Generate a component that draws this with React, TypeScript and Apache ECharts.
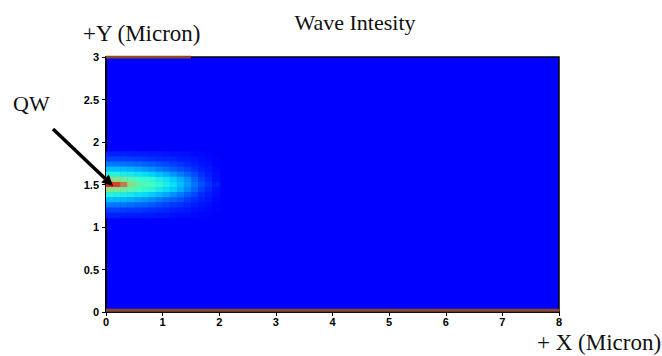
import React, { useEffect, useRef } from "react";
import * as echarts from "echarts";

// Cell left edges along X (micron) and row centres along Y (micron)
const XS = [0, 0.125, 0.25, 0.375, 0.5, 0.625, 0.75, 0.875, 1.0, 1.125, 1.25, 1.375, 1.5, 1.625, 1.75, 1.875];
const YS = [1.86, 1.8, 1.74, 1.68, 1.62, 1.56, 1.5, 1.44, 1.38, 1.32, 1.26, 1.2, 1.14];
const DX = 0.125;
const DY = 0.06;

// Relative intensity per row (top to bottom), per column (left to right)
const R186 = [0.08, 0.08, 0.08, 0.07, 0.07, 0.07, 0.06, 0.06, 0.05, 0.04, 0.04, 0.03, 0.02, 0.02, 0.01, 0.0];
const R180 = [0.16, 0.16, 0.15, 0.15, 0.14, 0.13, 0.12, 0.11, 0.1, 0.09, 0.07, 0.06, 0.05, 0.03, 0.02, 0.01];
const R174 = [0.27, 0.27, 0.26, 0.25, 0.24, 0.22, 0.21, 0.19, 0.17, 0.15, 0.13, 0.1, 0.08, 0.05, 0.03, 0.01];
const R168 = [0.4, 0.39, 0.38, 0.37, 0.35, 0.33, 0.31, 0.28, 0.25, 0.22, 0.19, 0.16, 0.12, 0.08, 0.05, 0.02];
const R162 = [0.53, 0.52, 0.5, 0.49, 0.47, 0.45, 0.42, 0.39, 0.36, 0.32, 0.28, 0.23, 0.18, 0.12, 0.07, 0.03];
const R156 = [0.72, 0.7, 0.66, 0.62, 0.58, 0.56, 0.54, 0.5, 0.46, 0.41, 0.36, 0.31, 0.23, 0.16, 0.1, 0.04];
const R150 = [1.0, 0.93, 0.82, 0.72, 0.64, 0.6, 0.57, 0.54, 0.5, 0.45, 0.39, 0.33, 0.26, 0.19, 0.13, 0.07];
const R144 = [0.7, 0.68, 0.65, 0.61, 0.58, 0.55, 0.53, 0.49, 0.45, 0.41, 0.36, 0.3, 0.23, 0.16, 0.1, 0.04];
const R138 = [0.52, 0.51, 0.5, 0.48, 0.46, 0.44, 0.41, 0.38, 0.35, 0.31, 0.27, 0.22, 0.17, 0.11, 0.07, 0.03];
const R132 = [0.39, 0.38, 0.37, 0.36, 0.34, 0.32, 0.3, 0.27, 0.24, 0.22, 0.19, 0.15, 0.11, 0.08, 0.05, 0.02];
const R126 = [0.27, 0.26, 0.26, 0.25, 0.23, 0.22, 0.2, 0.18, 0.16, 0.14, 0.12, 0.1, 0.07, 0.05, 0.03, 0.01];
const R120 = [0.16, 0.16, 0.15, 0.14, 0.14, 0.13, 0.12, 0.11, 0.1, 0.08, 0.07, 0.06, 0.04, 0.03, 0.02, 0.01];
const R114 = [0.08, 0.08, 0.07, 0.07, 0.07, 0.06, 0.06, 0.05, 0.05, 0.04, 0.03, 0.03, 0.02, 0.01, 0.01, 0.0];
const ROWS = [R186, R180, R174, R168, R162, R156, R150, R144, R138, R132, R126, R120, R114];

// Boundary layers (metal contacts) drawn along the edges
const TOP_LAYER = [[0, 3], [1.5, 3]];
const BOTTOM_LAYER = [[0, 0.02], [8, 0.02]];

const JET = ["#0000ff", "#0038ff", "#0080ff", "#00d8ff", "#40ffc8", "#90e080", "#d06038", "#e82814"];

export default function App() {
  const ref = useRef<HTMLDivElement>(null);
  useEffect(() => {
    if (!ref.current) return;
    const chart = echarts.init(ref.current, null, { renderer: "svg" });
    const cells: number[][] = [];
    ROWS.forEach((row, ri) => {
      row.forEach((v, ci) => {
        cells.push([XS[ci], YS[ri], v]);
      });
    });
    const serif = "'Liberation Serif', 'Times New Roman', serif";
    const sans = "'Liberation Sans', Arial, sans-serif";
    const tipX = 113, tipY = 186, sx = 53, sy = 129;
    const len = Math.hypot(tipX - sx, tipY - sy);
    const ux = (tipX - sx) / len, uy = (tipY - sy) / len;
    const bx = tipX - ux * 11, by = tipY - uy * 11;
    const px = -uy * 5.5, py = ux * 5.5;
    chart.setOption({
      animation: false,
      title: {
        text: "Wave Intesity",
        left: 350,
        top: 6,
        textAlign: "center",
        textStyle: { fontFamily: serif, fontSize: 22, fontWeight: "normal", color: "#111" },
      },
      grid: {
        left: 106,
        right: 103,
        top: 57,
        bottom: 44,
        show: true,
        backgroundColor: "#0000ff",
        borderColor: "#000",
        borderWidth: 1.5,
      },
      visualMap: {
        type: "continuous",
        show: false,
        min: 0,
        max: 1,
        dimension: 2,
        seriesIndex: 0,
        inRange: { color: JET },
      },
      xAxis: {
        type: "value",
        min: 0,
        max: 8,
        interval: 1,
        axisLine: { show: true, onZero: false, lineStyle: { color: "#000", width: 1.5 } },
        axisTick: { show: true, length: 4, lineStyle: { color: "#000" } },
        splitLine: { show: false },
        axisLabel: { color: "#000", fontFamily: sans, fontWeight: "bold", fontSize: 11, margin: 4 },
      },
      yAxis: {
        type: "value",
        min: 0,
        max: 3,
        interval: 0.5,
        axisLine: { show: true, onZero: false, lineStyle: { color: "#000", width: 2 } },
        axisTick: { show: true, length: 4, lineStyle: { color: "#000" } },
        splitLine: { show: false },
        axisLabel: { color: "#000", fontFamily: sans, fontWeight: "bold", fontSize: 11, margin: 7 },
      },
      series: [
        {
          type: "custom",
          clip: true,
          data: cells,
          encode: { x: 0, y: 1 },
          renderItem: (params: any, api: any) => {
            const x = api.value(0);
            const y = api.value(1);
            const p0 = api.coord([x, y + DY / 2]);
            const p1 = api.coord([x + DX, y - DY / 2]);
            return {
              type: "rect",
              shape: { x: p0[0], y: p0[1], width: p1[0] - p0[0] + 0.6, height: p1[1] - p0[1] + 0.6 },
              style: { fill: api.visual("color") },
            };
          },
          z: 1,
        },
        {
          type: "line",
          data: TOP_LAYER,
          symbol: "none",
          lineStyle: { color: "#8a4a2a", width: 3 },
          z: 5,
        },
        {
          type: "line",
          data: BOTTOM_LAYER,
          symbol: "none",
          lineStyle: { color: "#8a4a2a", width: 3 },
          z: 5,
        },
      ],
      graphic: [
        {
          type: "text",
          left: 83,
          top: 22,
          style: { text: "+Y (Micron)", font: `23px ${serif}`, fill: "#111" },
        },
        {
          type: "text",
          left: 537,
          top: 331,
          style: { text: "+ X (Micron)", font: `23px ${serif}`, fill: "#111" },
        },
        {
          type: "text",
          left: 13,
          top: 92,
          style: { text: "QW", font: `22px ${serif}`, fill: "#111" },
        },
        {
          type: "line",
          shape: { x1: sx, y1: sy, x2: bx, y2: by },
          style: { stroke: "#000", lineWidth: 3.5 },
          z: 100,
        },
        {
          type: "polygon",
          shape: { points: [[tipX, tipY], [bx + px, by + py], [bx - px, by - py]] },
          style: { fill: "#000" },
          z: 100,
        },
      ],
    });
    return () => chart.dispose();
  }, []);
  return (
    <div
      ref={ref}
      style={{ position: "fixed", left: 0, top: 0, width: 662, height: 356, background: "#fff" }}
    />
  );
}
